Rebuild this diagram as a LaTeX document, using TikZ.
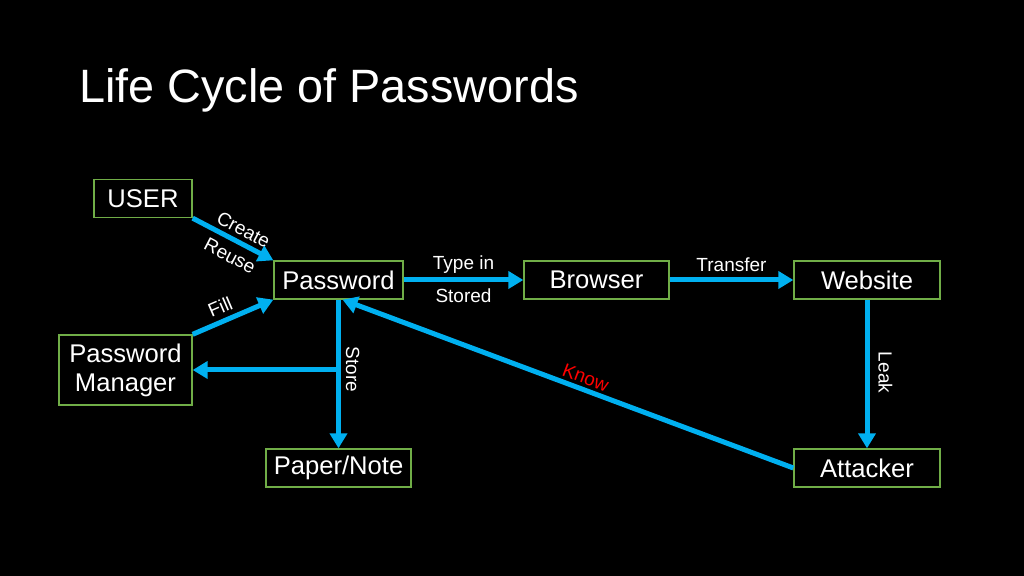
\documentclass[tikz,border=0pt]{standalone}
\usepackage{fontspec}
\setmainfont{Liberation Sans}
\usetikzlibrary{arrows.meta}

\definecolor{boxgreen}{RGB}{112,173,71}
\definecolor{flowblue}{RGB}{0,176,240}

\tikzstyle{box} = [draw=boxgreen,line width=1.3bp,fill=black,text=white,minimum height=38bp,inner sep=0pt,font=\fontsize{25.6bp}{29bp}\selectfont,align=center]
\tikzstyle{flow} = [draw=flowblue,line width=5bp,-{Triangle[length=15bp,width=17bp]}]
\tikzstyle{lbl} = [text=white,inner sep=1bp,font=\fontsize{19bp}{22bp}\selectfont]

\begin{document}
\begin{tikzpicture}[x=1bp,y=1bp]
	\fill[black] (0,0) rectangle (1024,576);
	\useasboundingbox (0,0) rectangle (1024,576);

	\node[text=white,font=\fontsize{46.8bp}{52bp}\selectfont,anchor=base west,inner sep=0pt] (title) at (79,473) {Life Cycle of Passwords};

	\node[box,minimum width=98bp] (user) at (143,377.5) {USER};
	\node[box,minimum width=129bp] (pwd) at (338.5,296) {Password};
	\node[box,minimum width=145bp] (browser) at (596.5,296) {Browser};
	\node[box,minimum width=146bp] (website) at (867,296) {Website};
	\node[box,minimum width=133bp,minimum height=70bp] (pm) at (125.5,206) {Password\\Manager};
	\node[box,minimum width=145bp] (paper) at (338.5,108) {Paper/Note};
	\node[box,minimum width=146bp] (attacker) at (867,108) {Attacker};

	\draw[flow] (user.south east) -- (pwd.north west)
		node[lbl,midway,sloped,above,xshift=5bp,yshift=3bp] {Create}
		node[lbl,midway,sloped,below,xshift=5bp,yshift=-6bp] {Reuse};
	\draw[flow] (pm.north east) -- (pwd.south west)
		node[lbl,pos=0.4,sloped,above,xshift=1bp,yshift=4bp] {Fill};
	\draw[flow] (pwd.east) -- (browser.west)
		node[lbl,midway,above,yshift=3bp] {Type in}
		node[lbl,midway,below,yshift=-5bp] {Stored};
	\draw[flow] (browser.east) -- (website.west)
		node[lbl,midway,above,yshift=5bp] {Transfer};
	\draw[flow] (website.south) -- (attacker.north)
		node[lbl,pos=0.49,rotate=-90,above,yshift=8bp] {Leak};
	\draw[flow] (pwd.south) -- (paper.north)
		node[lbl,pos=0.47,rotate=-90,above,yshift=4bp] {Store};

	\coordinate (split) at (pwd.south |- pm.east);
	\draw[flow] (split) -- (pm.east);

	\draw[flow] (attacker.west) -- ([xshift=4bp]pwd.south)
		node[lbl,text=red,pos=0.47,sloped,above,yshift=2bp] {Know};
\end{tikzpicture}
\end{document}
